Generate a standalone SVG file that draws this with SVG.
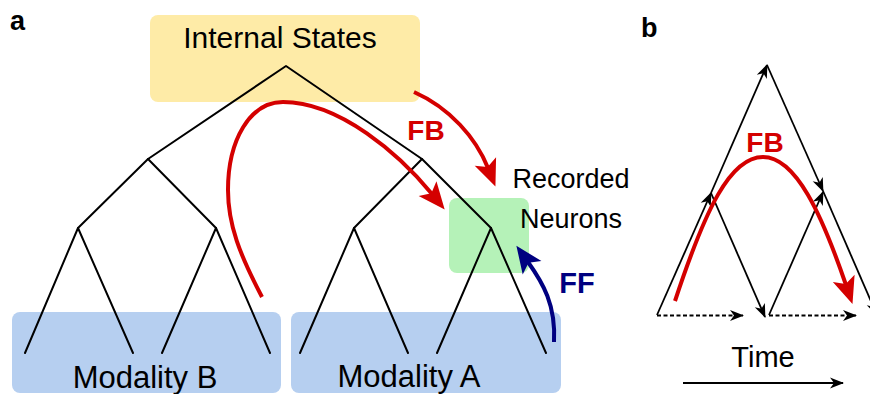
<svg xmlns="http://www.w3.org/2000/svg" width="870" height="394" viewBox="0 0 870 394">
  <style>
    .tree { stroke: #000; stroke-width: 2; fill: none; stroke-linecap: round; stroke-linejoin: round; }
    .thin { stroke: #000; stroke-width: 1.8; fill: none; }
    .dash { stroke-dasharray: 4 2.5; }
    .lbl { font-family: "Liberation Sans", Arial, sans-serif; fill: #000; }
    .bold { font-family: "Liberation Sans", Arial, sans-serif; font-weight: bold; }
    .fb { stroke: #d40000; stroke-width: 4; fill: none; }
    .ff { stroke: #000080; stroke-width: 4; fill: none; }
  </style>
  <defs>
    <marker id="redHead" markerUnits="userSpaceOnUse" orient="auto" overflow="visible" markerWidth="30" markerHeight="24">
      <path d="M20,0 L-7,-11.5 L-1,0 L-7,11.5 Z" fill="#d40000"/>
    </marker>
    <marker id="blueHead" markerUnits="userSpaceOnUse" orient="auto" overflow="visible" markerWidth="30" markerHeight="24">
      <path d="M20,0 L-7,-11.5 L-1,0 L-7,11.5 Z" fill="#000080"/>
    </marker>
    <marker id="blackHead" markerUnits="userSpaceOnUse" orient="auto" overflow="visible" markerWidth="16" markerHeight="12">
      <path d="M1,0 L-13,-5.5 L-9,0 L-13,5.5 Z" fill="#000"/>
    </marker>
  </defs>

  <!-- panel labels -->
  <text class="bold" x="10" y="30" font-size="27">a</text>
  <text class="bold" x="641" y="37" font-size="27">b</text>

  <!-- nodes -->
  <g id="internal-states">
    <rect x="150" y="15" width="270" height="87" rx="8" fill="#feeba7"/>
    <text class="lbl" x="280" y="48" font-size="30" text-anchor="middle">Internal States</text>
  </g>
  <g id="modality-b">
    <rect x="12" y="312" width="269" height="81" rx="8" fill="#b6cff0"/>
  </g>
  <g id="modality-a">
    <rect x="291" y="312" width="270" height="81" rx="8" fill="#b6cff0"/>
  </g>
  <g id="recorded-neurons">
    <rect x="449" y="198" width="80" height="75" rx="8" fill="#b5f2b8"/>
  </g>

  <!-- tree -->
  <g id="tree" class="tree">
    <polyline points="148,159 286,66 422,159"/>
    <polyline points="78,228 148,159 216,228"/>
    <polyline points="25,353 78,228 133,353"/>
    <polyline points="162,353 216,228 270,353"/>
    <polyline points="354,228 422,159 491,228"/>
    <polyline points="300,353 354,228 408,353"/>
    <polyline points="437,353 491,228 546,353"/>
  </g>

  <!-- texts over tree -->
  <text class="lbl" x="145" y="388" font-size="31" text-anchor="middle">Modality B</text>
  <text class="lbl" x="409" y="387" font-size="31" text-anchor="middle">Modality A</text>
  <text class="lbl" x="571" y="188" font-size="27" text-anchor="middle">Recorded</text>
  <text class="lbl" x="571" y="228" font-size="27" text-anchor="middle">Neurons</text>

  <!-- connectors panel a -->
  <g id="connectors-a">
    <path class="fb" d="M414,92 C450,108 476,138 488,168" marker-end="url(#redHead)"/>
    <path class="fb" d="M262,297 C240,255 228,225 228,190 C228,140 250,102 283,102 C340,102 400,155 432,194" marker-end="url(#redHead)"/>
    <path class="ff" d="M554,342 C556,305 543,283 528,262" marker-end="url(#blueHead)"/>
  </g>
  <text class="bold" x="426" y="140" font-size="28" fill="#d40000" text-anchor="middle">FB</text>
  <text class="bold" x="577" y="293" font-size="29" fill="#000080" text-anchor="middle">FF</text>

  <!-- panel b -->
  <g id="connectors-b">
    <line class="thin" x1="657" y1="315" x2="711" y2="193" marker-end="url(#blackHead)"/>
    <line class="thin" x1="711" y1="193" x2="767" y2="65" marker-end="url(#blackHead)"/>
    <line class="thin" x1="767" y1="65" x2="823" y2="191" marker-end="url(#blackHead)"/>
    <line class="thin" x1="823" y1="191" x2="877" y2="315" marker-end="url(#blackHead)"/>
    <line class="thin" x1="711" y1="193" x2="765" y2="317" marker-end="url(#blackHead)"/>
    <line class="thin" x1="769" y1="315" x2="823" y2="192" marker-end="url(#blackHead)"/>
    <line class="thin dash" x1="657" y1="315.5" x2="743" y2="315.5" marker-end="url(#blackHead)"/>
    <line class="thin dash" x1="769" y1="315.5" x2="856" y2="315.5" marker-end="url(#blackHead)"/>
    <line class="thin" x1="683" y1="383" x2="843" y2="383" marker-end="url(#blackHead)"/>
    <path class="fb" d="M675,301 C705,210 730,157 763,157 C796,157 822,215 846,285" marker-end="url(#redHead)"/>
  </g>
  <text class="bold" x="765" y="152" font-size="28" fill="#d40000" text-anchor="middle">FB</text>
  <text class="lbl" x="763" y="367" font-size="29" text-anchor="middle">Time</text>
</svg>
